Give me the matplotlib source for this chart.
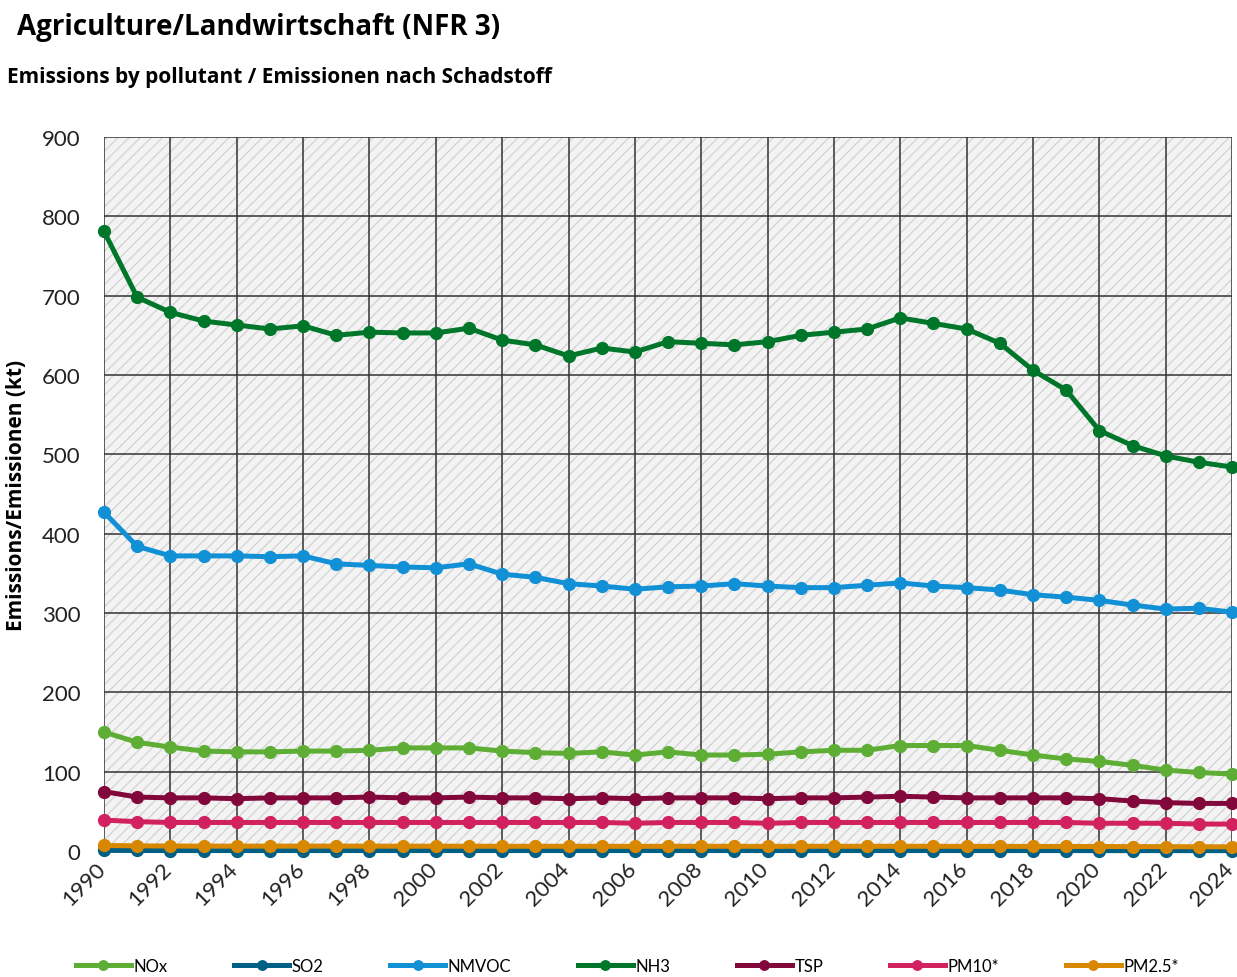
import numpy as np
import matplotlib
matplotlib.use("Agg")
import matplotlib.pyplot as plt
import matplotlib.transforms as mtrans
from matplotlib.patches import Rectangle

years = list(range(1990, 2025))

nox = [150, 137, 131, 126, 125, 125, 126, 126, 127, 130, 130, 130, 126, 124, 123,
       125, 121, 125, 121, 121, 122, 125, 127, 127, 133, 133, 133, 127, 121, 116,
       113, 108, 102, 99, 97]
so2 = [0.8, 0.7, 0.6, 0.6, 0.6, 0.6, 0.6, 0.6, 0.6, 0.6, 0.6, 0.6, 0.6, 0.6, 0.6,
       0.6, 0.6, 0.6, 0.6, 0.6, 0.6, 0.6, 0.6, 0.6, 0.6, 0.6, 0.6, 0.6, 0.6, 0.6,
       0.5, 0.5, 0.5, 0.5, 0.5]
nmvoc = [427, 384, 372, 372, 372, 371, 372, 362, 360, 358, 357, 362, 349, 345, 337,
         334, 330, 333, 334, 337, 334, 332, 332, 335, 338, 334, 332, 329, 323, 320,
         316, 310, 305, 306, 301]
nh3 = [781, 698, 679, 668, 663, 658, 662, 650, 654, 653, 653, 659, 644, 638, 624,
       634, 629, 642, 640, 638, 642, 650, 654, 658, 672, 665, 658, 640, 606, 581,
       530, 511, 498, 490, 484]
tsp = [75, 68, 67, 67, 66, 67, 67, 67, 68, 67, 67, 68, 67, 67, 66,
       67, 66, 67, 67, 67, 66, 67, 67, 68, 69, 68, 67, 67, 67, 67,
       66, 63, 61, 60, 60]
pm10 = [39, 37, 36, 36, 36, 36, 36, 36, 36, 36, 36, 36, 36, 36, 36,
        36, 35, 36, 36, 36, 35, 36, 36, 36, 36, 36, 36, 36, 36, 36,
        35, 35, 35, 34, 34]
pm25 = [7, 6.5, 6.3, 6.2, 6.2, 6.2, 6.2, 6.2, 6.2, 6.1, 6.1, 6.1, 6.0, 6.0, 6.0,
        6.0, 5.9, 6.0, 6.0, 6.0, 5.9, 6.0, 6.0, 6.0, 6.0, 6.0, 5.9, 5.9, 5.8, 5.8,
        5.7, 5.6, 5.5, 5.4, 5.3]

series = [("NOx", nox, "#5eae35"),
          ("SO2", so2, "#005f85"),
          ("NMVOC", nmvoc, "#1290d6"),
          ("NH3", nh3, "#00762a"),
          ("TSP", tsp, "#82073b"),
          ("PM10*", pm10, "#d2215f"),
          ("PM2.5*", pm25, "#d78700")]

plt.rcParams["font.family"] = ["Lato", "DejaVu Sans"]
plt.rcParams["hatch.linewidth"] = 0.9

fig = plt.figure(figsize=(12.37, 9.78), dpi=100)
ax = fig.add_axes([0.0841, 0.1288, 0.9119, 0.7301])

ax.set_facecolor("#f3f3f3")
ax.add_patch(Rectangle((0, 0), 1, 1, transform=ax.transAxes, facecolor="none",
                       edgecolor="#d2d2d2", hatch="///", lw=0, zorder=0))

for name, vals, col in series:
    ax.plot(years, vals, color=col, lw=3.6, marker="o", markersize=8.5,
            label=name, clip_on=False, zorder=3)

ax.set_xlim(1990, 2024)
ax.set_ylim(0, 900)
ax.set_xticks(range(1990, 2025, 2))
ax.set_yticks(range(0, 901, 100))
ax.grid(True, color="#333333", lw=1.1)
ax.set_axisbelow(True)
for s in ax.spines.values():
    s.set_visible(False)
ax.tick_params(length=0, labelsize=16, colors="#222222")
ax.tick_params(axis="y", pad=17)
ax.tick_params(axis="x", pad=5)
# nudge the rotated year labels a bit left so 2024 stays inside the figure
shift = mtrans.ScaledTranslation(-9 / 100, 0, fig.dpi_scale_trans)
for lab in ax.get_xticklabels():
    lab.set_rotation(45)
    lab.set_ha("right")
    lab.set_rotation_mode("anchor")
    lab.set_transform(lab.get_transform() + shift)

ax.set_ylabel("Emissions/Emissionen (kt)", fontsize=15, fontweight="bold",
              family=["Open Sans", "DejaVu Sans"])
ax.yaxis.set_label_coords(-0.068, 0.5)

fig.text(0.014, 0.972, "Agriculture/Landwirtschaft (NFR 3)", fontsize=20,
         fontweight="bold", va="center", ha="left",
         family=["Open Sans", "DejaVu Sans"])
fig.text(0.006, 0.921, "Emissions by pollutant / Emissionen nach Schadstoff",
         fontsize=15, fontweight="bold", va="center", ha="left",
         family=["Open Sans", "DejaVu Sans"])

fig.legend(loc="center", bbox_to_anchor=(0.507, 0.011), ncol=7, frameon=False,
           fontsize=12, handlelength=3.3, handletextpad=0.15, columnspacing=4.0,
           markerscale=0.8)

fig.savefig("out.png", dpi=100)
